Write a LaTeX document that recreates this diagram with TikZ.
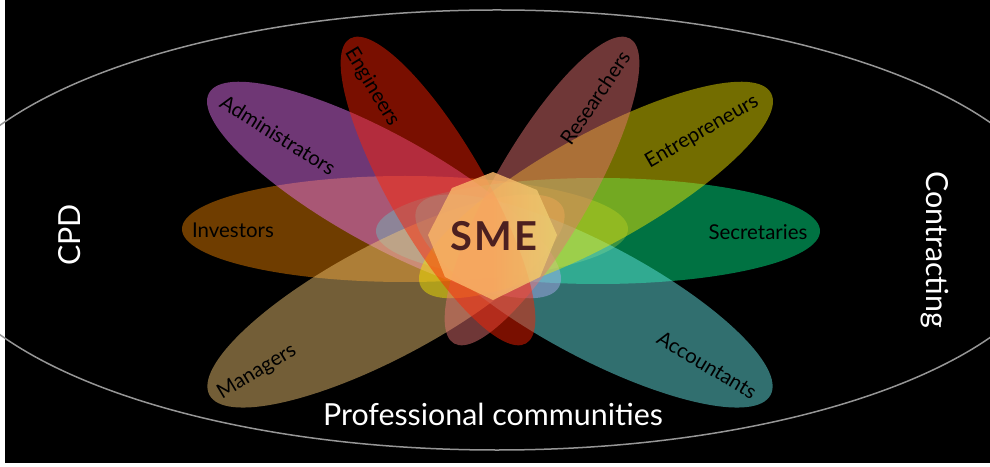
\documentclass[tikz,border=0pt]{standalone}
\usepackage{fontspec}
\setmainfont{Lato}
\usetikzlibrary{shapes.geometric}
\definecolor{ringgray}{RGB}{150,150,150}
\definecolor{cAdm}{RGB}{233,117,246}
\definecolor{cEng}{RGB}{254,33,0}
\definecolor{cRes}{RGB}{233,117,117}
\definecolor{cEnt}{RGB}{242,229,0}
\definecolor{cInv}{RGB}{233,129,0}
\definecolor{cSec}{RGB}{0,240,138}
\definecolor{cMan}{RGB}{242,198,117}
\definecolor{cAcc}{RGB}{104,233,233}
\definecolor{cCoreL}{RGB}{248,180,104}
\definecolor{cCoreR}{RGB}{236,206,112}
\definecolor{cSME}{RGB}{76,32,32}
\tikzset{
  petal/.style={ellipse, draw=none, inner sep=0pt, outer sep=0pt, fill opacity=0.48},
  plabel/.style={text=black, font=\fontsize{20.5}{20.5}\selectfont, inner sep=0pt},
  sidelabel/.style={text=white, font=\fontsize{30.5}{30.5}\selectfont, inner sep=0pt},
}
\begin{document}
\begin{tikzpicture}[x=1bp,y=-1bp]
\useasboundingbox (0,0) rectangle (990,467);
\clip (0,0) rectangle (990,467);
\fill[white] (0,0) rectangle (990,467);
\fill[black] (5,0) rectangle (990,463);
% outer ring
\node[ellipse, draw=ringgray, line width=1.5bp, fill=none, inner sep=0pt,
      minimum width=1130bp, minimum height=440bp] (ring) at (497,230) {};
% petals (bottom to top)
\node[petal, fill=cInv, minimum width=446bp, minimum height=106bp] (inv) at (405,229) {};
\node[petal, fill=cSec, minimum width=444bp, minimum height=106bp] (sec) at (598,231) {};
\node[petal, fill=cAdm, minimum width=400bp, minimum height=110bp, rotate=-29] (adm) at (384,190) {};
\node[petal, fill=cMan, minimum width=400bp, minimum height=114bp, rotate=28] (man) at (386,301) {};
\node[petal, fill=cAcc, minimum width=400bp, minimum height=114bp, rotate=-28] (acc) at (594,301) {};
\node[petal, fill=cEnt, minimum width=400bp, minimum height=110bp, rotate=29] (ent) at (596,190) {};
\node[petal, fill=cRes, minimum width=352bp, minimum height=96bp, rotate=60] (res) at (542,191) {};
\node[petal, fill=cEng, minimum width=352bp, minimum height=96bp, rotate=-60] (eng) at (438,191) {};
% core
\shade[left color=cCoreL, right color=cCoreR, middle color=cCoreL, fill opacity=0.84]
  (493,172) -- (537,190) -- (557,235) -- (540,277) -- (493,300)
  -- (445,277) -- (428,235) -- (452,188) -- cycle;
\node[text=cSME, font=\fontsize{40}{40}\selectfont\bfseries, inner sep=0pt] (sme) at (494,236) {S\kern2bp M\kern2bp E};
% petal labels
\node[plabel, rotate=-32] (ladm) at (278,135) {Administrators};
\node[plabel, rotate=-59] (leng) at (372,87) {Engineers};
\node[plabel, rotate=56] (lres) at (595,98) {Researchers};
\node[plabel, rotate=30] (lent) at (702,132) {Entrepreneurs};
\node[plabel] (linv) at (233,230) {Investors};
\node[plabel] (lsec) at (758,232) {Secretaries};
\node[plabel, rotate=31] (lman) at (257,372) {Managers};
\node[plabel, rotate=-31] (lacc) at (707,365) {Accountants};
% outer labels
\node[sidelabel, rotate=90] (cpd) at (70,235) {CPD};
\node[sidelabel, rotate=-90] (con) at (935,250) {Contracting};
\node[sidelabel] (prof) at (493,414) {Professional communities};
\end{tikzpicture}
\end{document}
